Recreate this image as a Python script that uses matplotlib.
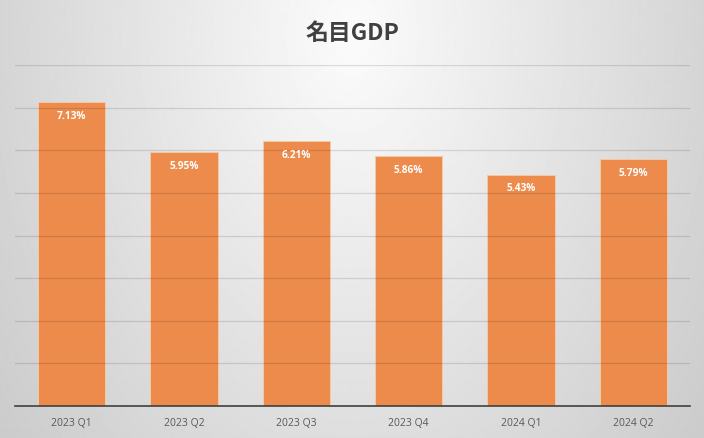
import numpy as np
import matplotlib
matplotlib.use("Agg")
from matplotlib import pyplot as plt

# data
quarters = ["2023 Q1", "2023 Q2", "2023 Q3", "2023 Q4", "2024 Q1", "2024 Q2"]
gdp_growth = [7.13, 5.95, 6.21, 5.86, 5.43, 5.79]
title = "名目GDP"

plt.rcParams['font.family'] = ['Open Sans', 'Noto Sans CJK JP', 'DejaVu Sans']

W, H = 704, 439
fig = plt.figure(figsize=(W / 100, H / 100), dpi=100)

# radial grey background, light at the top centre
bg = fig.add_axes([0, 0, 1, 1], zorder=-10)
yy, xx = np.mgrid[0:1:440j, 0:1:705j]
r = np.sqrt(((xx - 0.5) / 0.5) ** 2 + ((yy - 0.08) / 1.2) ** 2)
val = np.clip(0.985 - 0.15 * r, 0.80, 1.0)
bg.imshow(val, cmap='gray', vmin=0, vmax=1, aspect='auto', extent=[0, 1, 1, 0])
bg.set_xlim(0, 1)
bg.set_ylim(1, 0)
bg.axis('off')

ax = fig.add_axes([15.3 / W, 1 - 407 / H, (689.6 - 15.3) / W, (407 - 66) / H])
ax.patch.set_alpha(0)

x = np.arange(len(quarters))
bars = ax.bar(x, gdp_growth, width=0.6, color='#EC8B4C', edgecolor='#F6C9A6',
              linewidth=0.7, zorder=2)

for xi, v in zip(x, gdp_growth):
    ax.annotate(f"{v:.2f}%", (xi, v), xytext=(0, -9.4), textcoords='offset points',
                ha='center', va='center', color='white', fontsize=7.3, fontweight='bold')

ax.set_ylim(0, 8)
ax.set_xlim(-0.5, len(quarters) - 0.5)
ax.set_yticks(np.arange(1, 9))
ax.yaxis.grid(True, color='black', alpha=0.12, linewidth=0.9, zorder=3)
ax.set_axisbelow(False)
ax.tick_params(axis='y', left=False, labelleft=False)
ax.set_xticks(x)
ax.set_xticklabels(quarters, fontsize=7.5, color='#595959')
ax.tick_params(axis='x', length=0, pad=8)

for s in ['top', 'left', 'right']:
    ax.spines[s].set_visible(False)
ax.spines['bottom'].set_color('#3f3f3f')
ax.spines['bottom'].set_linewidth(1.2)
ax.spines['bottom'].set_zorder(4)

fig.text(0.5, 1 - 33 / H, title, ha='center', va='center', fontsize=16.5,
         fontweight='bold', color='#404040', family=['Noto Sans CJK JP', 'DejaVu Sans'])

fig.savefig("out.png", dpi=100)
